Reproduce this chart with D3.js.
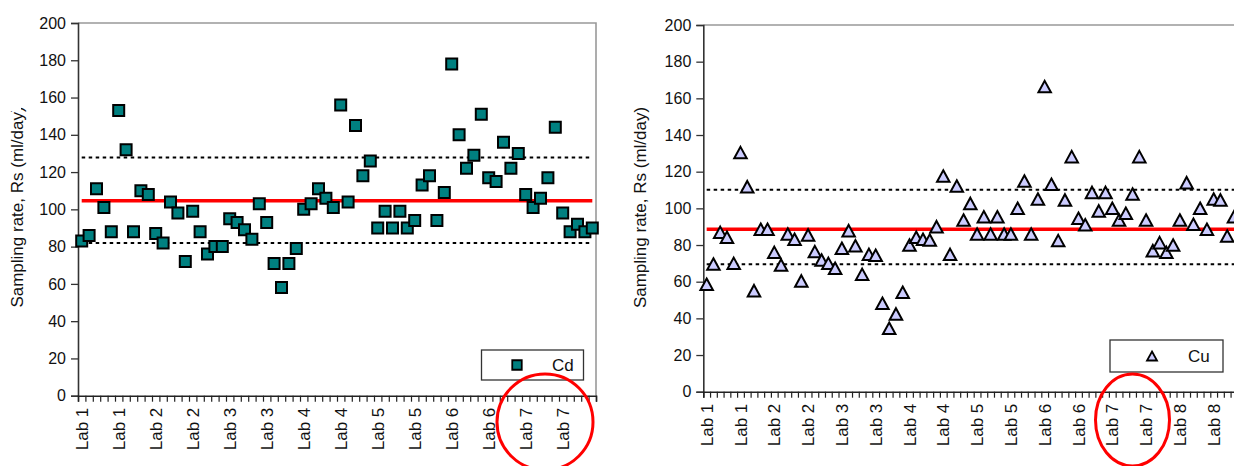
<!DOCTYPE html>
<html>
<head>
<meta charset="utf-8">
<script src="https://cdn.jsdelivr.net/npm/d3@7"></script>
<style>
  html, body { margin: 0; padding: 0; background: #fff; }
  svg { display: block; }
  text { font-family: "Liberation Sans", Arial, sans-serif; fill: #111; }
</style>
</head>
<body>
<svg id="chart" width="1234" height="466"></svg>
<script>
// Sampling rates (ml/day) per sample, grouped by laboratory
const cdCategories = d3.range(70).map(i => "Lab " + (Math.floor(i / 10) + 1));
const cdValues = [83, 86, 111, 101, 88, 153, 132, 88, 110, 108,
                  87, 82, 104, 98, 72, 99, 88, 76, 80, 80,
                  95, 93, 89, 84, 103, 93, 71, 58, 71, 79,
                  100, 103, 111, 106, 101, 156, 104, 145, 118, 126,
                  90, 99, 90, 99, 90, 94, 113, 118, 94, 109,
                  178, 140, 122, 129, 151, 117, 115, 136, 122, 130,
                  108, 101, 106, 117, 144, 98, 88, 92, 88, 90];
const cdMean = 104.6, cdUpper = 127.8, cdLower = 82.0;

const cuCategories = d3.range(80).map(i => "Lab " + (Math.floor(i / 10) + 1));
const cuValues = [58.6, 69.6, 86.9, 84.2, 70, 130.4, 111.8, 55.1, 88.6, 88.6,
                  76, 69.1, 86, 83.1, 60.4, 85.5, 76.4, 71.8, 70, 67.3,
                  78.2, 87.8, 79.6, 64, 74.9, 74.4, 48.2, 34.6, 42.4, 54.2,
                  80, 84.2, 83.1, 82.7, 90, 117.6, 74.9, 112.2, 93.6, 102.7,
                  86, 95.4, 86, 95.4, 86, 86, 100, 114.9, 86, 105.1,
                  166.4, 113.1, 82.4, 104.6, 128.2, 94.6, 91, 108.7, 98.6, 108.7,
                  100, 93.6, 97.3, 107.8, 128.2, 93.6, 76.9, 81.3, 76, 80,
                  93.6, 114, 91.3, 100, 88.6, 105.1, 104.6, 84.9, 95.4];
const cuMean = 88.6, cuUpper = 110.2, cuLower = 69.5;

const yTicks = [0, 20, 40, 60, 80, 100, 120, 140, 160, 180, 200];
const yTitle = "Sampling rate, Rs (ml/day)";

const svg = d3.select("#chart");
const FONT = "'Liberation Sans', Arial, sans-serif";

const squareMark = d3.symbol().type(d3.symbolSquare).size(121);
const triangleMark = (w, h) => `M0,${-h / 2}L${w / 2},${h / 2}L${-w / 2},${h / 2}Z`;

function panel(cfg) {
  const g = svg.append("g");
  const n = cfg.categories.length;
  const x = d3.scaleBand().domain(d3.range(n)).range([cfg.left, cfg.right]).paddingInner(0).paddingOuter(0);
  const xEdge = d3.scaleLinear().domain([0, n]).range([cfg.left, cfg.right]);
  const y = d3.scaleLinear().domain([0, 200]).range([cfg.bottom, cfg.top]);
  const cx = i => x(i) + x.bandwidth() / 2;

  // plot frame (top and right)
  g.append("path")
    .attr("d", `M${cfg.left},${cfg.top}H${cfg.right}V${cfg.bottom}`)
    .attr("fill", "none").attr("stroke", "#999").attr("stroke-width", 1.6);

  // y axis
  const yAxis = g.append("g").attr("transform", `translate(${cfg.left},0)`)
    .call(d3.axisLeft(y).tickValues(yTicks).tickSize(7).tickPadding(5));
  yAxis.select(".domain").attr("stroke", "#333").attr("stroke-width", 1.6);
  yAxis.selectAll(".tick line").attr("stroke", "#333").attr("stroke-width", 1.3);
  yAxis.selectAll("text").attr("font-size", 16).attr("fill", "#111")
    .style("font-family", FONT);

  // x axis: tick marks between categories
  const xTickAxis = g.append("g").attr("transform", `translate(0,${cfg.bottom})`)
    .call(d3.axisBottom(xEdge).tickValues(d3.range(n + 1)).tickSize(6).tickFormat(""));
  xTickAxis.select(".domain").attr("stroke", "#222").attr("stroke-width", 1.6);
  xTickAxis.selectAll(".tick line").attr("stroke", "#222").attr("stroke-width", 1.2);

  // x axis: every fifth category label
  const xLab = g.append("g").attr("transform", `translate(0,${cfg.bottom})`)
    .call(d3.axisBottom(x).tickValues(d3.range(0, n, 5)).tickSize(0)
      .tickFormat(i => cfg.categories[i]));
  xLab.select(".domain").remove();
  xLab.selectAll("text")
    .attr("font-size", 17).attr("fill", "#111")
    .style("font-family", FONT)
    .attr("text-anchor", "end")
    .attr("transform", "rotate(-90)")
    .attr("x", -12).attr("y", 0).attr("dy", "0.36em");

  // y axis title
  const tg = g.append("g");
  if (cfg.titleClip) tg.attr("clip-path", `url(#${cfg.titleClip})`);
  tg.append("text")
    .attr("transform", `translate(${cfg.titleX},${cfg.titleY}) rotate(-90)`)
    .attr("text-anchor", "middle")
    .attr("dy", "0.35em")
    .attr("font-size", 17)
    .text(yTitle);

  // reference lines: mean and bounds
  const first = cx(0), last = cx(n - 1);
  [[cfg.upper, "dash"], [cfg.lower, "dash"], [cfg.mean, "solid"]].forEach(([v, kind]) => {
    g.append("line")
      .attr("x1", first).attr("x2", last)
      .attr("y1", y(v)).attr("y2", y(v))
      .attr("stroke", kind === "solid" ? "#ff0000" : "#000")
      .attr("stroke-width", kind === "solid" ? 3.5 : 2)
      .attr("stroke-dasharray", kind === "solid" ? null : "3.5,3.5");
  });

  // sample markers
  const pts = g.append("g");
  cfg.values.forEach((v, i) => {
    pts.append("path")
      .attr("transform", `translate(${cx(i)},${y(v)})`)
      .attr("fill", cfg.fill).attr("stroke", "#000").attr("stroke-width", 2)
      .attr("d", cfg.shape === "square" ? squareMark() : triangleMark(12.5, 11.5));
  });

  // legend
  const lg = g.append("g");
  lg.append("rect")
    .attr("x", cfg.legend.x).attr("y", cfg.legend.y)
    .attr("width", cfg.legend.w).attr("height", cfg.legend.h)
    .attr("fill", "#fff").attr("stroke", "#333").attr("stroke-width", 1.3);
  const my = cfg.legend.y + cfg.legend.h / 2;
  lg.append("path")
    .attr("transform", `translate(${cfg.legend.mx},${my})`)
    .attr("d", cfg.shape === "square" ? d3.symbol().type(d3.symbolSquare).size(90)() : triangleMark(10, 9))
    .attr("fill", cfg.fill).attr("stroke", "#000").attr("stroke-width", 1.8);
  lg.append("text")
    .attr("x", cfg.legend.tx).attr("y", my).attr("dy", "0.35em")
    .attr("font-size", 17).text(cfg.name);

  // highlight ring round the Lab 7 labels
  g.append("ellipse")
    .attr("cx", cfg.ring.cx).attr("cy", cfg.ring.cy)
    .attr("rx", cfg.ring.rx).attr("ry", cfg.ring.ry)
    .attr("fill", "none").attr("stroke", "#ff0000").attr("stroke-width", 3);
}

// the left title's closing bracket is cut off at the top edge
const defs = svg.append("defs");
const clip = defs.append("clipPath").attr("id", "leftTitleClip");
clip.append("rect").attr("x", 0).attr("y", 111).attr("width", 40).attr("height", 250);
clip.append("rect").attr("x", 21).attr("y", 0).attr("width", 20).attr("height", 120);

panel({
  categories: cdCategories, values: cdValues, name: "Cd",
  mean: cdMean, upper: cdUpper, lower: cdLower,
  left: 78, right: 596, top: 23, bottom: 395.7,
  titleX: 17, titleY: 207, titleClip: "leftTitleClip",
  shape: "square", fill: "#008080",
  legend: { x: 481.5, y: 350, w: 102, h: 30, mx: 517, tx: 552 },
  ring: { cx: 545, cy: 422, rx: 48, ry: 48 }
});

panel({
  categories: cuCategories, values: cuValues, name: "Cu",
  mean: cuMean, upper: cuUpper, lower: cuLower,
  left: 703.3, right: 703.3 + 80 * 6.76, top: 25, bottom: 391.7,
  titleX: 640, titleY: 207.5,
  shape: "triangle", fill: "#ccccff",
  legend: { x: 1110, y: 340, w: 113, h: 32, mx: 1152, tx: 1188 },
  ring: { cx: 1132.5, cy: 420, rx: 37, ry: 46 }
});
</script>
</body>
</html>
